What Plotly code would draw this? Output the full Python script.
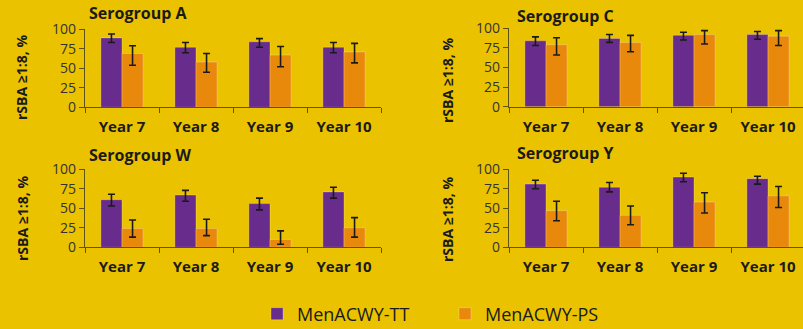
import plotly.graph_objects as go

# Categories
years = ["Year 7", "Year 8", "Year 9", "Year 10"]

# rSBA >=1:8 (%) with 95% CI bounds, per serogroup and vaccine
a_tt = [89, 77, 84, 77]
a_tt_hi = [94, 83, 88, 83]
a_tt_lo = [83, 70, 77, 70]
a_ps = [69, 58, 67, 71]
a_ps_hi = [79, 69, 78, 82]
a_ps_lo = [54, 45, 52, 57]

c_tt = [84, 87, 91, 92]
c_tt_hi = [89, 92, 95, 96]
c_tt_lo = [78, 82, 85, 86]
c_ps = [79, 82, 92, 90]
c_ps_hi = [88, 91, 97, 97]
c_ps_lo = [66, 70, 80, 78]

w_tt = [61, 67, 56, 71]
w_tt_hi = [68, 73, 63, 77]
w_tt_lo = [53, 59, 48, 63]
w_ps = [24, 24, 10, 25]
w_ps_hi = [35, 36, 21, 38]
w_ps_lo = [13, 15, 4, 13]

y_tt = [81, 77, 90, 88]
y_tt_hi = [86, 83, 95, 91]
y_tt_lo = [75, 71, 84, 81]
y_ps = [47, 41, 58, 66]
y_ps_hi = [59, 53, 70, 78]
y_ps_lo = [34, 29, 44, 51]

y_ticks = [0, 25, 50, 75, 100]

BG = "#EBC200"
PURPLE = "#682D8C"
ORANGE = "#E8890C"
AXIS = "#5E5214"
FONT = "Open Sans"

W, H = 803, 329


def px_x(x):
    return x / W


def px_y(y):
    return (H - y) / H


panels = [
    # title, tt, tt_hi, tt_lo, ps, ps_hi, ps_lo, x-domain px, y-domain px (top, bottom), title pos, ytitle pos
    ("Serogroup A", a_tt, a_tt_hi, a_tt_lo, a_ps, a_ps_hi, a_ps_lo, (85, 381), (29.3, 107.3), (87, 13), (22, 78)),
    ("Serogroup C", c_tt, c_tt_hi, c_tt_lo, c_ps, c_ps_hi, c_ps_lo, (509, 805), (28.3, 106.7), (515, 16), (447, 81)),
    ("Serogroup W", w_tt, w_tt_hi, w_tt_lo, w_ps, w_ps_hi, w_ps_lo, (85, 381), (169.3, 247.3), (87, 155), (22, 219)),
    ("Serogroup Y", y_tt, y_tt_hi, y_tt_lo, y_ps, y_ps_hi, y_ps_lo, (509, 805), (169.3, 247.3), (515, 153), (447, 220)),
]

fig = go.Figure()
annotations = []
layout_axes = {}

for i, (title, tt, tt_hi, tt_lo, ps, ps_hi, ps_lo, xd, yd, tpos, ypos) in enumerate(panels):
    n = "" if i == 0 else str(i + 1)
    xa, ya = "x" + n, "y" + n
    for name, vals, hi, lo, col in [
        ("MenACWY-TT", tt, tt_hi, tt_lo, PURPLE),
        ("MenACWY-PS", ps, ps_hi, ps_lo, ORANGE),
    ]:
        fig.add_trace(go.Bar(
            x=years, y=vals, name=name, xaxis=xa, yaxis=ya,
            marker=dict(color=col, line=dict(color="rgba(255,255,255,0.25)", width=1)),
            error_y=dict(type="data", symmetric=False,
                         array=[h - v for h, v in zip(hi, vals)],
                         arrayminus=[v - l for v, l in zip(vals, lo)],
                         color="#1A1A1A", thickness=1.6, width=3.5),
            showlegend=(i == 0), legendgroup=name,
        ))

    # x range: the right-hand panels run past the page edge
    x0, x1 = xd
    xmax = min(x1, W)
    span = 4.0 / (x1 - x0)
    xr = [-0.5, -0.5 + (xmax - x0) * span]

    layout_axes["xaxis" + n] = dict(
        domain=[px_x(x0), px_x(xmax)], anchor=ya, range=xr,
        showline=True, linecolor=AXIS, linewidth=1.3,
        ticks="outside", tickson="boundaries", ticklen=5, tickcolor=AXIS, tickwidth=1.3,
        ticklabelstandoff=6,
        tickfont=dict(family=FONT, size=15, color="#1A1A1A", weight="bold"),
        showgrid=False, zeroline=False, fixedrange=True,
    )
    layout_axes["yaxis" + n] = dict(
        domain=[px_y(yd[1]), px_y(yd[0])], anchor=xa, range=[0, 100],
        tickvals=y_ticks, showline=True, linecolor=AXIS, linewidth=1.3,
        ticks="outside", ticklen=5, tickcolor=AXIS, tickwidth=1.3,
        tickfont=dict(family=FONT, size=14, color="#333333"),
        showgrid=False, zeroline=False, fixedrange=True,
    )

    annotations.append(dict(
        text="<b>" + title + "</b>", xref="paper", yref="paper",
        x=px_x(tpos[0]), y=px_y(tpos[1]), xanchor="left", yanchor="middle",
        showarrow=False, font=dict(family=FONT, size=16, color="#1A1A1A"),
    ))
    annotations.append(dict(
        text="<b>rSBA ≥1:8, %</b>", xref="paper", yref="paper",
        x=px_x(ypos[0]), y=px_y(ypos[1]), xanchor="center", yanchor="middle",
        textangle=-90, showarrow=False,
        font=dict(family=FONT, size=14, color="#1A1A1A"),
    ))

fig.update_layout(
    width=W, height=H,
    margin=dict(l=0, r=0, t=0, b=0, autoexpand=False),
    paper_bgcolor=BG, plot_bgcolor=BG,
    barmode="group", bargap=0.43, bargroupgap=0,
    annotations=annotations,
    legend=dict(
        orientation="h", x=px_x(445), y=px_y(314), xanchor="center", yanchor="middle",
        font=dict(family=FONT, size=18, color="#1A1A1A"),
        bgcolor="rgba(0,0,0,0)", entrywidth=143, traceorder="normal",
    ),
    **layout_axes,
)

fig.write_html("out.html")
